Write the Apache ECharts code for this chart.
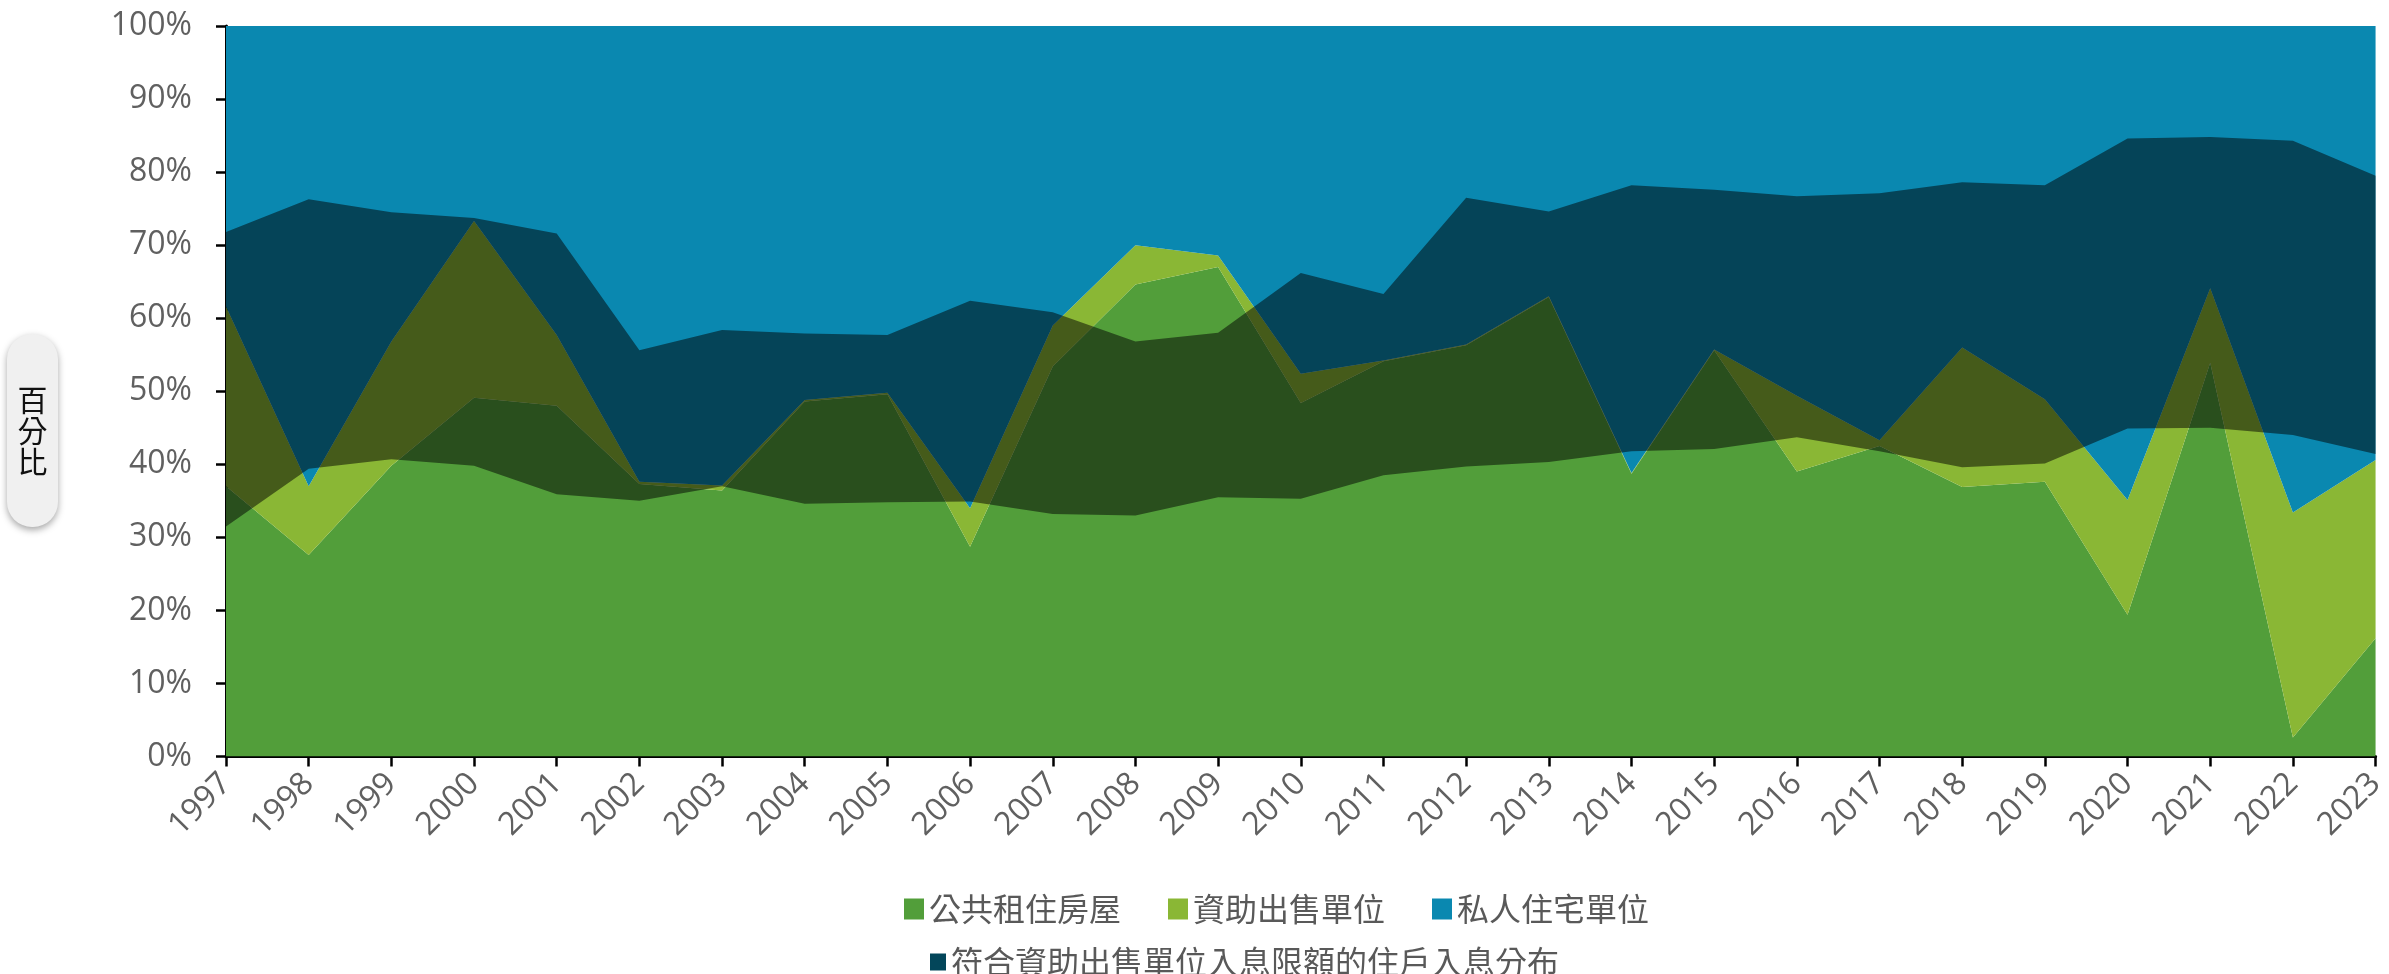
<!DOCTYPE html>
<html>
<head>
<meta charset="utf-8">
<title>住戶入息分布</title>
<script src="https://cdn.jsdelivr.net/npm/echarts@6/dist/echarts.min.js"></script>
<style>
  html, body { margin: 0; padding: 0; background: #ffffff; }
  #chart { width: 2389px; height: 974px; }
</style>
</head>
<body>
<div id="chart"></div>
<script>
// Years on the horizontal axis
const years = ['1997', '1998', '1999', '2000', '2001', '2002', '2003', '2004', '2005',
  '2006', '2007', '2008', '2009', '2010', '2011', '2012', '2013', '2014', '2015',
  '2016', '2017', '2018', '2019', '2020', '2021', '2022', '2023'];

// Share of households by type of housing (%), stacked to 100
const publicRental = [37.0, 27.6, 39.8, 49.1, 48.0, 37.3, 36.4, 48.6, 49.6, 28.7, 53.4, 64.6, 67.0,
  48.4, 54.1, 56.3, 62.9, 38.7, 55.6, 39.0, 42.5, 36.9, 37.6, 19.4, 53.9, 2.6, 16.2];
const subsidisedSale = [24.6, 9.4, 17.0, 24.2, 9.7, 0.3, 0.7, 0.2, 0.2, 5.3, 5.6, 5.4, 1.6,
  4.0, 0.1, 0.1, 0.1, 0.1, 0.1, 10.4, 0.8, 19.1, 11.3, 15.7, 10.2, 30.8, 24.4];
const privateHousing = [38.4, 63.0, 43.2, 26.7, 42.3, 62.4, 62.9, 51.2, 50.2, 66.0, 41.0, 30.0, 31.4,
  47.6, 45.8, 43.6, 37.0, 61.2, 44.3, 50.6, 56.7, 44.0, 51.1, 64.9, 35.9, 66.6, 59.4];

// Income range (percentile band) of households within the income limit
const eligibleLow = [31.5, 39.4, 40.7, 39.8, 35.9, 35.0, 37.0, 34.6, 34.8, 34.9, 33.2, 33.0, 35.5,
  35.3, 38.5, 39.7, 40.3, 41.8, 42.1, 43.7, 41.8, 39.6, 40.1, 44.9, 45.0, 44.0, 41.4];
const eligibleHigh = [71.8, 76.3, 74.5, 73.7, 71.6, 55.6, 58.4, 57.9, 57.7, 62.4, 60.8, 56.8, 58.0,
  66.2, 63.3, 76.5, 74.6, 78.2, 77.6, 76.7, 77.1, 78.6, 78.2, 84.6, 84.8, 84.3, 79.5];

// Tick labels of the value axis
const percentTicks = ['0%', '10%', '20%', '30%', '40%', '50%', '60%', '70%', '80%', '90%', '100%'];

const names = {
  publicRental: '公共租住房屋',
  subsidisedSale: '資助出售單位',
  privateHousing: '私人住宅單位',
  eligible: '符合資助出售單位入息限額的住戶入息分布'
};

const colors = {
  publicRental: '#529e3a',
  subsidisedSale: '#8ab735',
  privateHousing: '#0a88b0',
  eligibleKey: '#03465a',
  eligibleFill: 'rgba(0,0,0,0.5)'
};

const latin = "'Open Sans', 'Noto Sans CJK TC', sans-serif";
const cjk = "'Noto Sans CJK TC', 'Open Sans', sans-serif";

// width of the income band on top of its lower bound
const eligibleWidth = eligibleHigh.map((h, i) => Math.round((h - eligibleLow[i]) * 10) / 10);

function housingArea(name, data, color) {
  return {
    name: name,
    type: 'line',
    stack: 'housing',
    data: data,
    symbol: 'none',
    lineStyle: { width: 0 },
    itemStyle: { color: color },
    areaStyle: { color: color, opacity: 1 },
    emphasis: { disabled: true }
  };
}

const chart = echarts.init(document.getElementById('chart'), null, { renderer: 'canvas' });

chart.setOption({
  animation: false,
  backgroundColor: '#ffffff',
  grid: { left: 226, right: 6, top: 26, bottom: 217.5, containLabel: false },
  legend: [
    {
      left: 899,
      top: 888,
      orient: 'horizontal',
      icon: 'rect',
      itemWidth: 20,
      itemHeight: 21,
      itemGap: 47,
      selectedMode: false,
      textStyle: { fontSize: 32, color: '#595959', fontFamily: cjk, padding: [0, 0, 0, 0] },
      data: [
        { name: names.publicRental, itemStyle: { color: colors.publicRental } },
        { name: names.subsidisedSale, itemStyle: { color: colors.subsidisedSale } },
        { name: names.privateHousing, itemStyle: { color: colors.privateHousing } }
      ]
    },
    {
      left: 925,
      top: 941,
      orient: 'horizontal',
      icon: 'rect',
      itemWidth: 16,
      itemHeight: 17,
      selectedMode: false,
      textStyle: { fontSize: 32, color: '#595959', fontFamily: cjk },
      data: [
        { name: names.eligible, itemStyle: { color: colors.eligibleKey } }
      ]
    }
  ],
  xAxis: {
    type: 'category',
    data: years,
    boundaryGap: false,
    axisLine: { show: true, lineStyle: { color: '#000000', width: 3 } },
    axisTick: { show: true, alignWithLabel: true, length: 10, lineStyle: { color: '#000000', width: 2.5 } },
    axisLabel: {
      rotate: 45,
      margin: 22,
      interval: 0,
      fontSize: 32,
      color: '#606060',
      fontFamily: latin
    },
    splitLine: { show: false }
  },
  yAxis: {
    type: 'value',
    min: 0,
    max: 100,
    interval: 10,
    axisLine: { show: true, lineStyle: { color: '#000000', width: 3 } },
    axisTick: { show: true, length: 10, lineStyle: { color: '#000000', width: 2.5 } },
    axisLabel: {
      margin: 34,
      fontSize: 32,
      color: '#606060',
      fontFamily: latin,
      formatter: function (v) { return percentTicks[Math.round(v / 10)]; }
    },
    splitLine: { show: false }
  },
  graphic: [
    {
      type: 'group',
      left: 7,
      top: 334,
      children: [
        {
          type: 'rect',
          shape: { x: 0, y: 0, width: 51, height: 193, r: 25 },
          style: {
            fill: '#f0f0f0',
            shadowBlur: 7,
            shadowOffsetX: 0,
            shadowOffsetY: 3,
            shadowColor: 'rgba(0,0,0,0.35)'
          }
        },
        {
          type: 'text',
          x: 25.5,
          y: 97,
          style: {
            text: '百\n分\n比',
            fontSize: 30,
            lineHeight: 31,
            fontFamily: cjk,
            fill: '#111111',
            align: 'center',
            verticalAlign: 'middle'
          }
        }
      ]
    }
  ],
  series: [
    housingArea(names.publicRental, publicRental, colors.publicRental),
    housingArea(names.subsidisedSale, subsidisedSale, colors.subsidisedSale),
    housingArea(names.privateHousing, privateHousing, colors.privateHousing),
    {
      name: 'eligibleBase',
      type: 'line',
      stack: 'eligible',
      data: eligibleLow,
      symbol: 'none',
      silent: true,
      lineStyle: { width: 0, opacity: 0 },
      itemStyle: { color: 'rgba(0,0,0,0)' },
      emphasis: { disabled: true }
    },
    {
      name: names.eligible,
      type: 'line',
      stack: 'eligible',
      data: eligibleWidth,
      symbol: 'none',
      lineStyle: { width: 0 },
      itemStyle: { color: colors.eligibleKey },
      areaStyle: { color: colors.eligibleFill, opacity: 1 },
      emphasis: { disabled: true }
    }
  ]
});
</script>
</body>
</html>
